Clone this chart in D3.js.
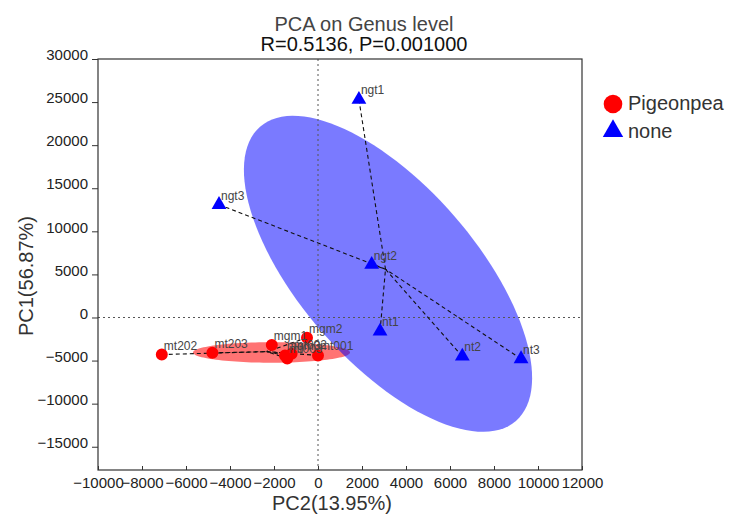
<!DOCTYPE html>
<html><head><meta charset="utf-8">
<script src="https://cdn.jsdelivr.net/npm/d3@7"></script>
<style>body{margin:0;background:#fff} text{font-family:"Liberation Sans",Arial,sans-serif}</style>
</head><body><svg id="c" width="730" height="520"></svg>
<script>
// ---- data ----
const titleLines = ["PCA on Genus level", "R=0.5136, P=0.001000"];
const xLabel = "PC2(13.95%)";
const yLabel = "PC1(56.87%)";
const groupNames = ["Pigeonpea", "none"];
const groupColors = ["#ff0000", "#0000ff"];

const pigeonNames = ["mt202", "mt203", "mgm1", "mgm2", "mgm3", "mt002", "mt003", "mt001"];
const pigeonPC2  = [-7100, -4800, -2100, -500, -1500, -1200, -1400, 0];
const pigeonPC1  = [-4300, -4100, -3200, -2350, -4400, -4200, -4750, -4400];

const noneNames = ["ngt1", "ngt3", "ngt2", "nt1", "nt2", "nt3"];
const nonePC2   = [1860, -4500, 2440, 2820, 6560, 9230];
const nonePC1   = [25300, 13100, 6150, -1600, -4500, -4800];

// confidence ellipses (data units): centre, semi-axis vectors
const pigeonEllipseCenter = [-2114, -4060];
const pigeonEllipseAxis1  = [3570, 0];
const pigeonEllipseAxis2  = [0, 1190];
const noneEllipseCenter = [3182, 5068];
const noneEllipseAxis1  = [5814, -17073];
const noneEllipseAxis2  = [-3018, -6692];

const xTicks = [-10000, -8000, -6000, -4000, -2000, 0, 2000, 4000, 6000, 8000, 10000, 12000];
const yTicks = [-15000, -10000, -5000, 0, 5000, 10000, 15000, 20000, 25000, 30000];

// ---- chart ----
const svg = d3.select("#c");
const L = 98, R = 582, T = 59, B = 470;
const x = d3.scaleLinear().domain([-10000, 12000]).range([L, R]);
const y = d3.scaleLinear().domain([-17700, 30000]).range([B, T]);

const groups = [
  {name: groupNames[0], color: groupColors[0], shape: "circle",
   pts: pigeonNames.map((n, i) => ({n, px: pigeonPC2[i], py: pigeonPC1[i]})),
   ec: pigeonEllipseCenter, e1: pigeonEllipseAxis1, e2: pigeonEllipseAxis2},
  {name: groupNames[1], color: groupColors[1], shape: "triangle",
   pts: noneNames.map((n, i) => ({n, px: nonePC2[i], py: nonePC1[i]})),
   ec: noneEllipseCenter, e1: noneEllipseAxis1, e2: noneEllipseAxis2}
];

// ellipses
const line = d3.line();
groups.forEach(g => {
  const pts = d3.range(0, 361, 3).map(a => {
    const t = a * Math.PI / 180;
    return [x(g.ec[0] + Math.cos(t) * g.e1[0] + Math.sin(t) * g.e2[0]),
            y(g.ec[1] + Math.cos(t) * g.e1[1] + Math.sin(t) * g.e2[1])];
  });
  svg.append("path").attr("d", line(pts) + "Z")
    .attr("fill", g.color).attr("fill-opacity", g.shape === "circle" ? 0.55 : 0.52);
});

// zero lines
svg.append("line").attr("x1", L).attr("x2", R).attr("y1", y(0)).attr("y2", y(0))
  .attr("stroke", "#555").attr("stroke-dasharray", "2,3");
svg.append("line").attr("x1", x(0)).attr("x2", x(0)).attr("y1", T).attr("y2", B)
  .attr("stroke", "#555").attr("stroke-dasharray", "2,3");

// spider lines to centroid
groups.forEach(g => {
  const cx = d3.mean(g.pts, d => d.px), cy = d3.mean(g.pts, d => d.py);
  svg.append("g").selectAll("line").data(g.pts).join("line")
    .attr("x1", d => x(d.px)).attr("y1", d => y(d.py))
    .attr("x2", x(cx)).attr("y2", y(cy))
    .attr("stroke", "#111").attr("stroke-width", 1.1).attr("stroke-dasharray", "4,3");
});

// points
groups.forEach(g => {
  const sym = d3.symbol().type(g.shape === "circle" ? d3.symbolCircle : d3.symbolTriangle)
    .size(g.shape === "circle" ? 113 : 95);
  svg.append("g").selectAll("path").data(g.pts).join("path")
    .attr("d", sym).attr("transform", d => `translate(${x(d.px)},${y(d.py)})`)
    .attr("fill", g.color);
  svg.append("g").selectAll("text").data(g.pts).join("text")
    .attr("x", d => x(d.px) + 2).attr("y", d => y(d.py) - 5)
    .attr("font-size", 12).attr("fill", "#444").text(d => d.n);
});

// axes
const ya = svg.append("g").attr("transform", `translate(${L},0)`)
  .call(d3.axisLeft(y).tickValues(yTicks).tickSize(6).tickPadding(4).tickFormat(d3.format("d")));
ya.select(".domain").remove();
ya.selectAll("line").attr("stroke", "#333");
ya.selectAll("text").attr("font-size", 15).attr("fill", "#222").attr("dy", "0.05em")
  .style("font-family", '"Liberation Sans",Arial,sans-serif');

const xa = svg.append("g").attr("transform", `translate(0,${B})`)
  .call(d3.axisBottom(x).tickValues(xTicks).tickSizeInner(-4).tickSizeOuter(0).tickPadding(7).tickFormat(d3.format("d")));
xa.select(".domain").remove();
xa.selectAll("line").attr("stroke", "#333");
xa.selectAll("text").attr("font-size", 15).attr("fill", "#222")
  .style("font-family", '"Liberation Sans",Arial,sans-serif');

// frame
svg.append("rect").attr("x", L).attr("y", T).attr("width", R - L).attr("height", B - T)
  .attr("fill", "none").attr("stroke", "#333").attr("stroke-width", 1.2);

// titles
svg.append("text").attr("x", 364).attr("y", 30.5).attr("text-anchor", "middle")
  .attr("font-size", 20).attr("fill", "#444").text(titleLines[0]);
svg.append("text").attr("x", 364).attr("y", 50.5).attr("text-anchor", "middle")
  .attr("font-size", 20).attr("fill", "#111").text(titleLines[1]);
svg.append("text").attr("x", 332).attr("y", 510).attr("text-anchor", "middle")
  .attr("font-size", 20).attr("fill", "#333").text(xLabel);
svg.append("text").attr("transform", "translate(33,276) rotate(-90)").attr("text-anchor", "middle")
  .attr("font-size", 20).attr("fill", "#333").text(yLabel);

// legend
const lg = svg.append("g");
groups.forEach((g, i) => {
  const cy = 104 + i * 27;
  lg.append("path")
    .attr("d", d3.symbol().type(g.shape === "circle" ? d3.symbolCircle : d3.symbolTriangle)
      .size(g.shape === "circle" ? 272 : 180))
    .attr("transform", `translate(613,${cy})`).attr("fill", g.color);
  lg.append("text").attr("x", 628).attr("y", cy + 5 + (i ? 1 : 0)).attr("dy", "0.05em")
    .attr("font-size", 20).attr("fill", "#333").text(g.name);
});
</script></body></html>
